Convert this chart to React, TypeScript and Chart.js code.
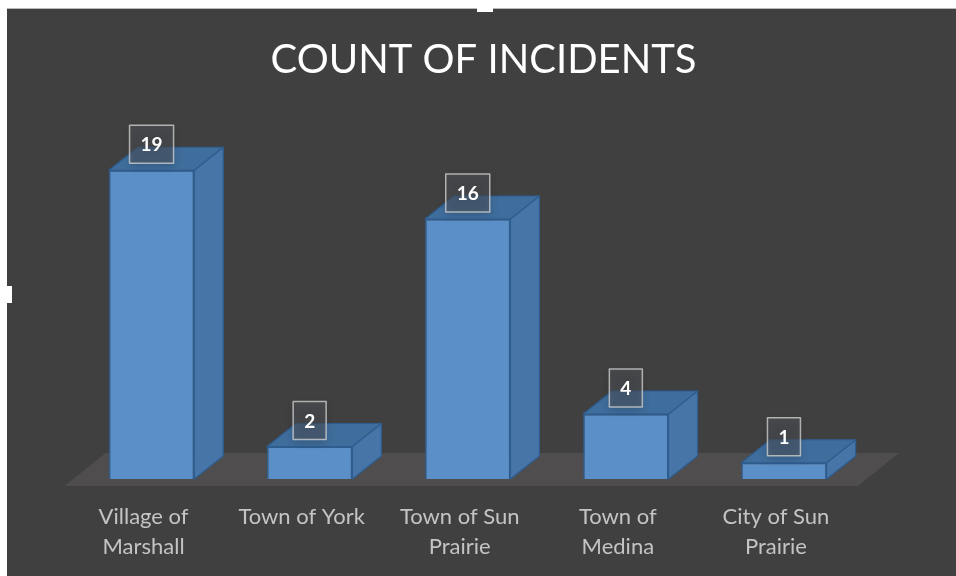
import React, { useEffect, useRef } from "react";
import { Chart, registerables } from "chart.js";

Chart.register(...registerables);

const TITLE = "COUNT OF INCIDENTS";
const CATEGORIES: string[][] = [
  ["Village of", "Marshall"],
  ["Town of York"],
  ["Town of Sun", "Prairie"],
  ["Town of", "Medina"],
  ["City of Sun", "Prairie"],
];
const INCIDENTS: number[] = [19, 2, 16, 4, 1];
const Y_MIN = 0;
const Y_MAX = 20;

const FRONT = "#5a8fc8";
const SIDE = "#4875a7";
const TOP = "#3f6d9c";
const EDGE = "#2e5d90";
const FLOOR = "#4f4d4e";
const BG = "#404040";
const FONT = "Lato, 'Open Sans', sans-serif";

const DEPTH_X = 29;
const DEPTH_Y = 23;

const threeD = {
  id: "threeD",
  beforeDatasetsDraw(chart: any) {
    const { ctx, chartArea, scales } = chart;
    const y0 = scales.y.getPixelForValue(0);
    const fl = chartArea.left - 8;
    const fr = chartArea.right - 5;
    const fy = y0 + 7;
    ctx.save();
    ctx.fillStyle = FLOOR;
    ctx.beginPath();
    ctx.moveTo(fl, fy);
    ctx.lineTo(fr, fy);
    ctx.lineTo(fr + 41, fy - 33);
    ctx.lineTo(fl + 41, fy - 33);
    ctx.closePath();
    ctx.fill();
    ctx.restore();
  },
  afterDatasetsDraw(chart: any) {
    const { ctx } = chart;
    const meta = chart.getDatasetMeta(0);
    ctx.save();
    ctx.lineWidth = 1.2;
    ctx.strokeStyle = EDGE;
    ctx.lineJoin = "round";
    meta.data.forEach((bar: any) => {
      const { x, y, base, width } = bar.getProps(["x", "y", "base", "width"], true);
      const l = x - width / 2;
      const r = x + width / 2;
      // side face
      ctx.fillStyle = SIDE;
      ctx.beginPath();
      ctx.moveTo(r, y);
      ctx.lineTo(r + DEPTH_X, y - DEPTH_Y);
      ctx.lineTo(r + DEPTH_X, base - DEPTH_Y);
      ctx.lineTo(r, base);
      ctx.closePath();
      ctx.fill();
      ctx.stroke();
      // top face
      ctx.fillStyle = TOP;
      ctx.beginPath();
      ctx.moveTo(l, y);
      ctx.lineTo(l + DEPTH_X, y - DEPTH_Y);
      ctx.lineTo(r + DEPTH_X, y - DEPTH_Y);
      ctx.lineTo(r, y);
      ctx.closePath();
      ctx.fill();
      ctx.stroke();
    });
    // data labels
    ctx.font = `bold 19px ${FONT}`;
    ctx.textAlign = "center";
    ctx.textBaseline = "middle";
    meta.data.forEach((bar: any, i: number) => {
      const { x, y } = bar.getProps(["x", "y"], true);
      const text = String(INCIDENTS[i]);
      const w = ctx.measureText(text).width + 22;
      const h = 38;
      const bx = x - w / 2;
      const by = y - 7 - h;
      ctx.save();
      ctx.shadowColor = "rgba(0,0,0,0.35)";
      ctx.shadowBlur = 8;
      ctx.shadowOffsetY = 3;
      ctx.fillStyle = "rgba(80,84,90,0.5)";
      ctx.fillRect(bx, by, w, h);
      ctx.restore();
      ctx.strokeStyle = "rgba(205,205,205,0.8)";
      ctx.lineWidth = 1.5;
      ctx.strokeRect(bx, by, w, h);
      ctx.fillStyle = "#ffffff";
      ctx.fillText(text, x, by + h / 2 + 1);
    });
    ctx.restore();
  },
};

export default function App() {
  const canvasRef = useRef<HTMLCanvasElement | null>(null);

  useEffect(() => {
    const canvas = canvasRef.current;
    if (!canvas) return;
    const chart = new Chart(canvas, {
      type: "bar",
      data: {
        labels: CATEGORIES,
        datasets: [
          {
            data: INCIDENTS,
            backgroundColor: FRONT,
            borderColor: EDGE,
            borderWidth: 1.5,
            barPercentage: 0.54,
            categoryPercentage: 1,
          },
        ],
      },
      options: {
        responsive: false,
        animation: false,
        devicePixelRatio: 1,
        layout: { padding: { left: 65.5, right: 61.5, top: 0, bottom: 0 } },
        plugins: {
          legend: { display: false },
          tooltip: { enabled: false },
          title: {
            display: true,
            text: TITLE,
            color: "#ffffff",
            font: { family: FONT, size: 40, weight: "normal", lineHeight: 1.2 },
            padding: { top: 27, bottom: 70 },
          },
        },
        scales: {
          x: {
            grid: { display: false, drawTicks: false },
            border: { display: false },
            ticks: {
              color: "#c4c4c4",
              font: { family: FONT, size: 22, lineHeight: "30px" },
              padding: 23,
              maxRotation: 0,
              autoSkip: false,
              labelOffset: -8,
            },
          },
          y: {
            display: true,
            position: "right",
            min: Y_MIN,
            max: Y_MAX,
            grid: { display: false, drawTicks: false },
            border: { display: false },
            ticks: { display: false },
            afterFit: (scale: any) => {
              scale.width = 31.5;
            },
          },
        },
      },
      plugins: [threeD],
    } as any);
    return () => chart.destroy();
  }, []);

  return (
    <div style={{ position: "fixed", left: 0, top: 0, width: 956, height: 576, background: "#ffffff", overflow: "hidden" }}>
      <div style={{ position: "absolute", left: 7, top: 8, width: 949, height: 568, background: BG, borderTop: "1px solid #b8b8b8", boxSizing: "border-box", overflow: "hidden" }}>
        <canvas ref={canvasRef} width={949} height={576} style={{ display: "block" }} />
      </div>
      <div style={{ position: "absolute", left: 477, top: 0, width: 16, height: 12, background: "#ffffff" }} />
      <div style={{ position: "absolute", left: 7, top: 286, width: 5, height: 17, background: "#ffffff" }} />
    </div>
  );
}
